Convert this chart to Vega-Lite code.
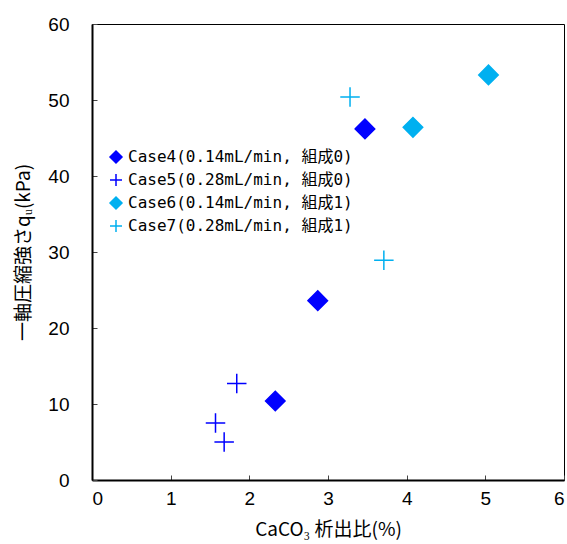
{
  "$schema": "https://vega.github.io/schema/vega-lite/v6.json",
  "width": 472,
  "height": 456,
  "autosize": {"type": "none"},
  "padding": {"left": 92, "top": 24, "right": 3, "bottom": 64},
  "background": "white",
  "config": {
    "view": {"stroke": "black", "strokeWidth": 1},
    "axis": {
      "grid": false,
      "domainColor": "black",
      "domainWidth": 2,
      "tickColor": "#444444",
      "tickWidth": 1,
      "tickSize": -5,
      "labelFont": "Liberation Sans",
      "labelFontSize": 19,
      "labelColor": "black",
      "titleFont": "Noto Sans CJK JP",
      "titleFontSize": 19,
      "titleFontWeight": "normal",
      "titleColor": "black"
    },
    "legend": {
      "labelFont": "DejaVu Sans Mono, Noto Sans CJK JP",
      "labelFontSize": 16,
      "labelColor": "black",
      "labelLimit": 0
    }
  },
  "data": {
    "values": [
      {"case": "Case4(0.14mL/min, 組成0)", "x": 2.33, "y": 10.4},
      {"case": "Case4(0.14mL/min, 組成0)", "x": 2.87, "y": 23.6},
      {"case": "Case4(0.14mL/min, 組成0)", "x": 3.47, "y": 46.2},
      {"case": "Case5(0.28mL/min, 組成0)", "x": 1.57, "y": 7.5},
      {"case": "Case5(0.28mL/min, 組成0)", "x": 1.68, "y": 5.0},
      {"case": "Case5(0.28mL/min, 組成0)", "x": 1.84, "y": 12.7},
      {"case": "Case6(0.14mL/min, 組成1)", "x": 4.08, "y": 46.4},
      {"case": "Case6(0.14mL/min, 組成1)", "x": 5.04, "y": 53.3},
      {"case": "Case7(0.28mL/min, 組成1)", "x": 3.28, "y": 50.4},
      {"case": "Case7(0.28mL/min, 組成1)", "x": 3.71, "y": 28.9}
    ]
  },
  "mark": {"type": "point", "filled": true, "size": 380, "strokeWidth": 1.5, "opacity": 1},
  "encoding": {
    "x": {
      "field": "x", "type": "quantitative",
      "scale": {"domain": [0, 6], "nice": false},
      "axis": {"title": "CaCO₃ 析出比(%)", "values": [0, 1, 2, 3, 4, 5, 6], "labelPadding": 14, "titlePadding": 12}
    },
    "y": {
      "field": "y", "type": "quantitative",
      "scale": {"domain": [0, 60], "nice": false},
      "axis": {"title": "一軸圧縮強さqᵤ(kPa)", "values": [0, 10, 20, 30, 40, 50, 60], "labelPadding": 28, "titlePadding": 14}
    },
    "color": {
      "field": "case", "type": "nominal",
      "scale": {
        "domain": ["Case4(0.14mL/min, 組成0)", "Case5(0.28mL/min, 組成0)", "Case6(0.14mL/min, 組成1)", "Case7(0.28mL/min, 組成1)"],
        "range": ["#0000FF", "#0000FF", "#00B0F0", "#00B0F0"]
      },
      "legend": {
        "title": null,
        "orient": "none",
        "legendX": 16,
        "legendY": 125,
        "symbolSize": 144,
        "symbolStrokeWidth": 1.5,
        "labelOffset": 4,
        "rowPadding": 5,
        "padding": 0
      }
    },
    "stroke": {
      "field": "case", "type": "nominal",
      "scale": {
        "domain": ["Case4(0.14mL/min, 組成0)", "Case5(0.28mL/min, 組成0)", "Case6(0.14mL/min, 組成1)", "Case7(0.28mL/min, 組成1)"],
        "range": ["#0000FF", "#0000FF", "#00B0F0", "#00B0F0"]
      }
    },
    "shape": {
      "field": "case", "type": "nominal",
      "scale": {
        "domain": ["Case4(0.14mL/min, 組成0)", "Case5(0.28mL/min, 組成0)", "Case6(0.14mL/min, 組成1)", "Case7(0.28mL/min, 組成1)"],
        "range": ["diamond", "M-1,0H1M0,-1V1", "diamond", "M-1,0H1M0,-1V1"]
      }
    }
  }
}
